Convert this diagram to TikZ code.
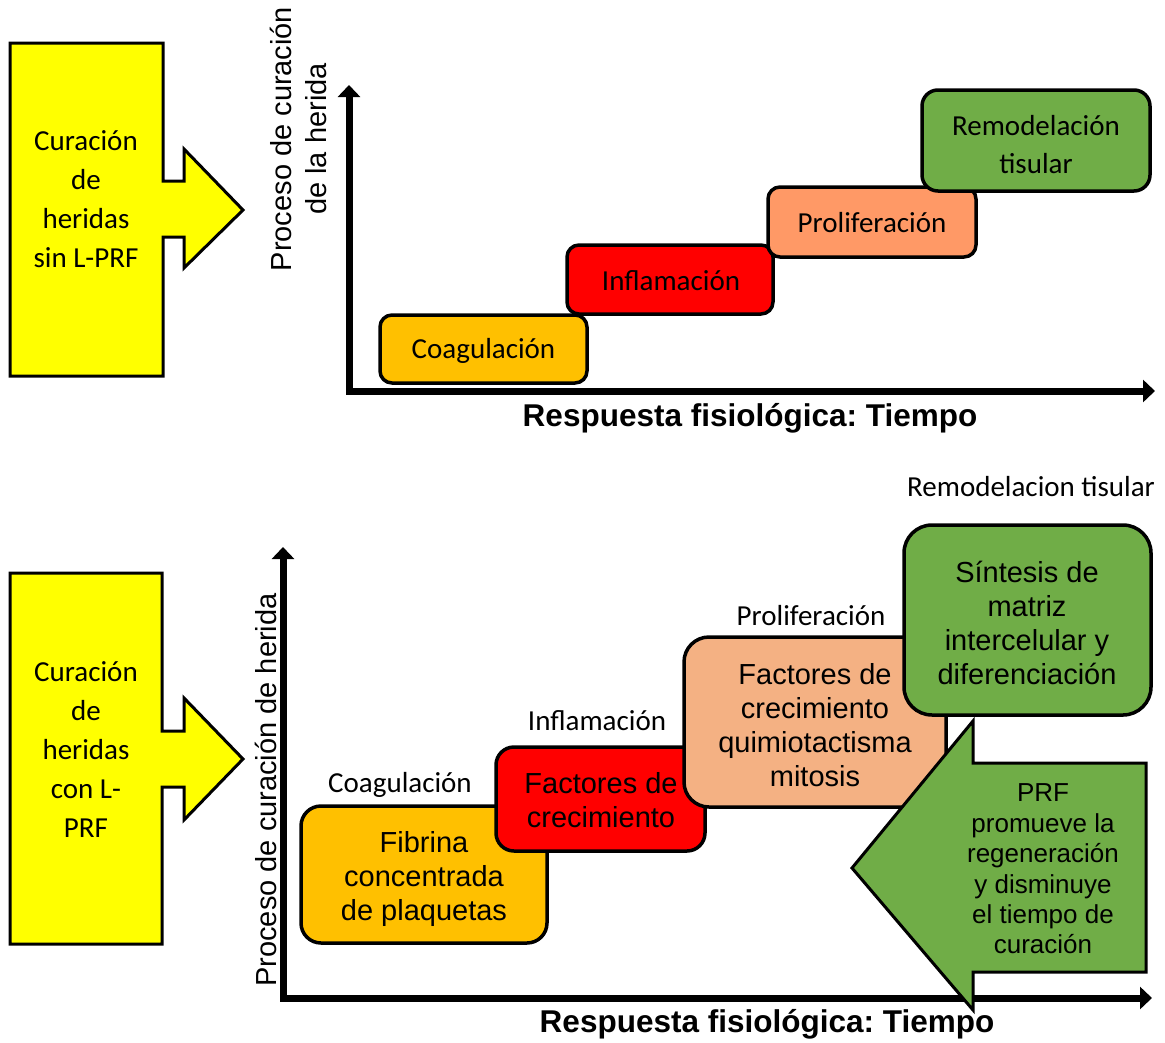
\documentclass[tikz,border=0pt]{standalone}
\usepackage{fontspec}
\setmainfont{Carlito}
\newfontfamily\arialf{Liberation Sans}
\usetikzlibrary{arrows.meta}
\definecolor{yel}{HTML}{FFFF00}
\definecolor{coag}{HTML}{FFC000}
\definecolor{infl}{HTML}{FF0000}
\definecolor{prolA}{HTML}{FF9966}
\definecolor{prolB}{HTML}{F4B183}
\definecolor{remod}{HTML}{70AD47}
\begin{document}
\frenchspacing
\begin{tikzpicture}[x=1pt,y=-1pt,
  cal/.style={font=\fontsize{29}{39}\selectfont, align=center, inner sep=0pt},
  calsm/.style={font=\fontsize{29}{35}\selectfont, align=center, inner sep=0pt},
  ari/.style={font=\arialf\fontsize{29}{34}\selectfont, align=center, inner sep=0pt},
  prf/.style={font=\arialf\fontsize{26}{30.4}\selectfont, align=center, inner sep=0pt},
  boldlab/.style={font=\arialf\bfseries\frenchspacing\fontsize{31.5}{36}\selectfont, inner sep=0pt},
  stage/.style={draw=black, line width=3.5pt, rectangle, inner sep=0pt},
  axisline/.style={line width=7pt, line join=miter, {Triangle[width=22pt,length=12pt]}-{Triangle[width=22pt,length=12pt]}},
  yshape/.style={draw=black, fill=yel, line width=3pt, line join=miter},
  gshape/.style={draw=black, fill=remod, line width=3pt, line join=miter},
]
\useasboundingbox[fill=white] (0,0) rectangle (1165,1042);

% ================= TOP PANEL =================
\draw[yshape] (10,43) -- (163,43) -- (163,181) -- (184,181) -- (184,149) -- (243,210)
  -- (184,268) -- (184,237) -- (163,237) -- (163,376) -- (10,376) -- cycle;
\node[cal] (curA) at (86,199) {Curación\\de\\heridas\\sin L-PRF};

\node[ari, font=\arialf\fontsize{29}{35}\selectfont, rotate=90] (ylabA) at (298,139) {Proceso de curación\\de la herida};

\coordinate (ytopA) at (349,85);
\coordinate (origA) at (349,391);
\coordinate (xendA) at (1155,391);
\draw[axisline] (ytopA) -- (origA) -- (xendA);

\node[stage, fill=coag, minimum width=207pt, minimum height=68pt, rounded corners=12pt] (cA) at (483.5,349) {};
\node[cal] (cAt) at (483.5,351) {Coagulación};
\node[stage, fill=infl, minimum width=206pt, minimum height=69pt, rounded corners=12pt] (iA) at (670,279.5) {};
\node[cal] (iAt) at (671,281) {Inflamación};
\node[stage, fill=prolA, minimum width=208pt, minimum height=70pt, rounded corners=12pt] (pA) at (872,222) {};
\node[cal] (pAt) at (872,223) {Proliferación};
\node[stage, fill=remod, minimum width=228pt, minimum height=101pt, rounded corners=16pt] (rA) at (1036,140.5) {};
\node[cal, font=\fontsize{29}{38}\selectfont] (rAt) at (1036,145) {Remodelación\\tisular};

\node[boldlab] (xlabA) at (750,418) {Respuesta fisiológica: Tiempo};

% ================= BOTTOM PANEL =================
\draw[yshape] (10,573) -- (162,573) -- (162,731) -- (184,731) -- (184,698) -- (243,759)
  -- (184,820) -- (184,787) -- (162,787) -- (162,944) -- (10,944) -- cycle;
\node[cal] (curB) at (86,749.5) {Curación\\de\\heridas\\con L-\\PRF};

\node[ari, rotate=90] (ylabB) at (266,790) {Proceso de curación de herida};

\coordinate (ytopB) at (283,547);
\coordinate (origB) at (283,998);
\coordinate (xendB) at (1152,998);
\draw[axisline] (ytopB) -- (origB) -- (xendB);

\node[calsm] (lc) at (400,785) {Coagulación};
\node[calsm] (li) at (597,721) {Inflamación};
\node[calsm] (lp) at (811,616) {Proliferación};
\node[calsm] (lr) at (1031,487) {Remodelacion tisular};

\node[stage, fill=coag, minimum width=246pt, minimum height=137pt, rounded corners=20pt] (cB) at (424,874.5) {};
\node[ari] (cBt) at (424,879) {Fibrina\\concentrada\\de plaquetas};
\node[stage, fill=infl, minimum width=209pt, minimum height=104pt, rounded corners=18pt] (iB) at (600.5,799) {};
\node[ari] (iBt) at (601,800) {Factores de\\crecimiento};
\node[stage, fill=prolB, minimum width=262pt, minimum height=170pt, rounded corners=25pt] (pB) at (815,722) {};
\node[ari] (pBt) at (815,725) {Factores de\\crecimiento\\quimiotactisma\\mitosis};
\node[stage, fill=remod, minimum width=247pt, minimum height=190pt, rounded corners=28pt] (rB) at (1027.5,620) {};
\node[ari] (rBt) at (1027,622.5) {Síntesis de\\matriz\\intercelular y\\diferenciación};

\node[boldlab] (xlabB) at (767,1024) {Respuesta fisiológica: Tiempo};

\draw[gshape] (852,868) -- (973,721) -- (973,763) -- (1146,763) -- (1146,972)
  -- (973,972) -- (973,1010) -- cycle;
\node[prf] (prfB) at (1043,869) {PRF\\promueve la\\regeneración\\y disminuye\\el tiempo de\\curación};
\end{tikzpicture}
\end{document}
